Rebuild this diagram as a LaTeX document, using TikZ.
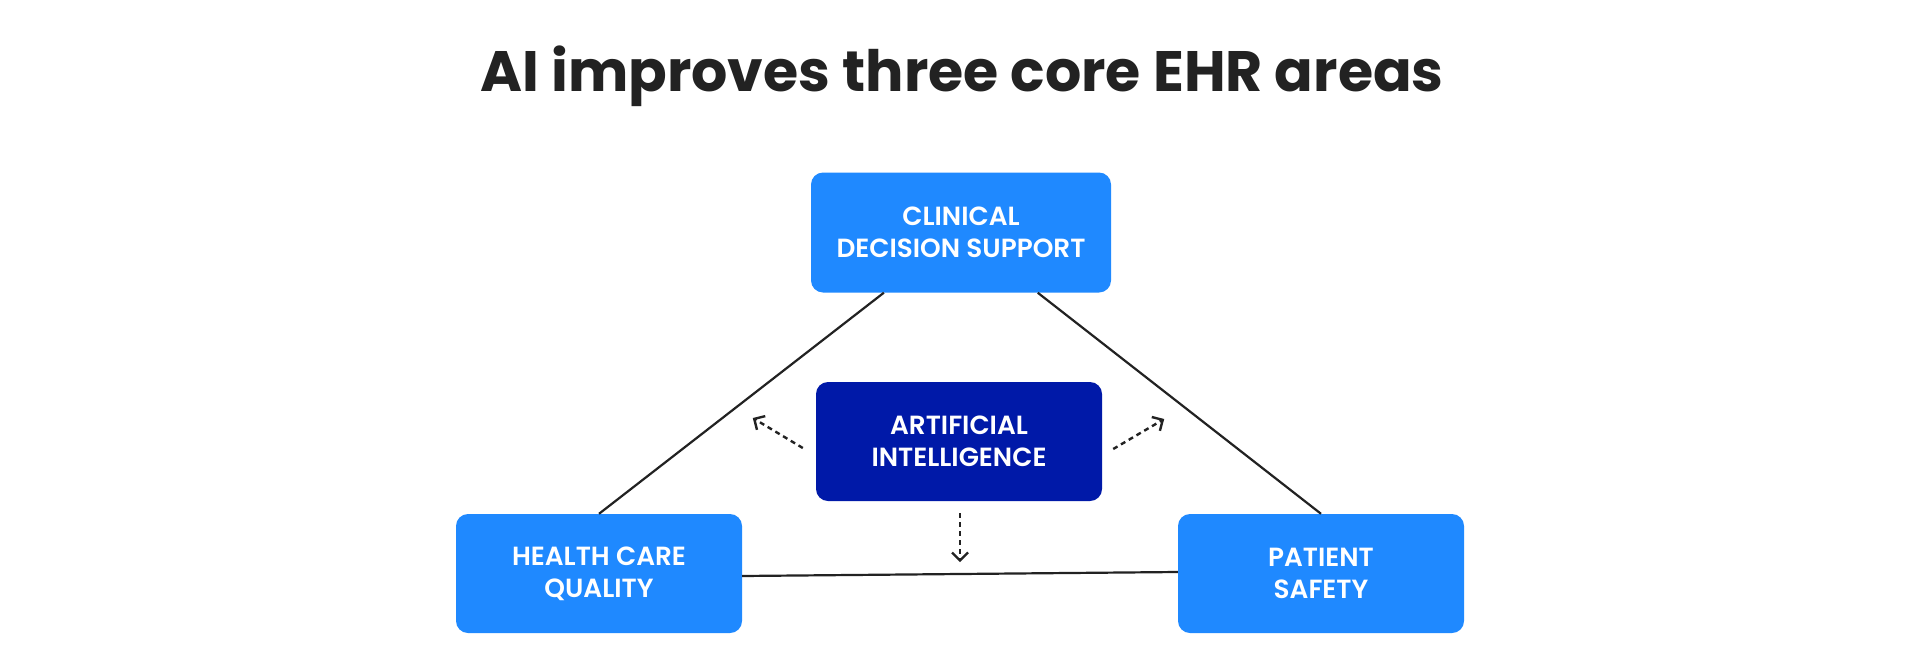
\documentclass[tikz,border=0pt]{standalone}
\usepackage{fontspec}
\setmainfont{Poppins}
\newfontfamily\headfont{Poppins Bold}
\newfontfamily\boxfont{Poppins SemiBold}
\usetikzlibrary{arrows.meta}
\definecolor{areablue}{HTML}{1F89FF}
\definecolor{aiblue}{HTML}{0019A8}
\definecolor{inkgrey}{HTML}{222222}

\begin{document}
\begin{tikzpicture}[
    x = 1pt, y = -1pt,
    area/.style = {shape = rectangle, rounded corners = 12pt, fill = areablue,
      text = white, align = center, inner sep = 0pt,
      minimum width = 286pt, minimum height = 119pt,
      font = \boxfont\fontsize{26.3}{31.7}\selectfont},
    core/.style = {area, fill = aiblue},
    link/.style = {draw = inkgrey, line width = 2.2pt},
    effect/.style = {draw = inkgrey, line width = 2.4pt, dash pattern = on 5pt off 4pt,
      -{Straight Barb[length = 8pt, width = 16pt]}}
  ]
  \useasboundingbox[fill = white] (0,0) rectangle (1920,672);
  \node[anchor = base, inner sep = 0pt, text = inkgrey,
    font = \headfont\fontsize{57}{64}\selectfont] (Title) at (962,91)
    {AI improves three core EHR areas};

  % the three EHR areas and the core
  \node[area, minimum width = 300pt, minimum height = 120pt] (Support) at (961,232.5)
    {CLINICAL\\DECISION SUPPORT};
  \node[core] (AI) at (959,441.5) {ARTIFICIAL\\INTELLIGENCE};
  \node[area] (Quality) at (599,573.5) {HEALTH CARE\\QUALITY};
  \node[area] (Safety) at (1321,573.5) {PATIENT\\SAFETY};

  \draw[link] (Quality.north) -- (Support);
  \draw[link] (Safety.north) -- (Support);
  \draw[link] ([yshift = -2.5pt]Quality.east) -- ([yshift = 1.5pt]Safety.west);

  % influence of AI
  \draw[effect] ([xshift = -13pt, yshift = -6.5pt]AI.west) -- ++(-50,-30);
  \draw[effect] ([xshift = 11pt, yshift = -7.5pt]AI.east) -- ++(51,-30);
  \draw[effect] ([xshift = 1pt, yshift = -12pt]AI.south) -- ++(0,49);
\end{tikzpicture}
\end{document}
